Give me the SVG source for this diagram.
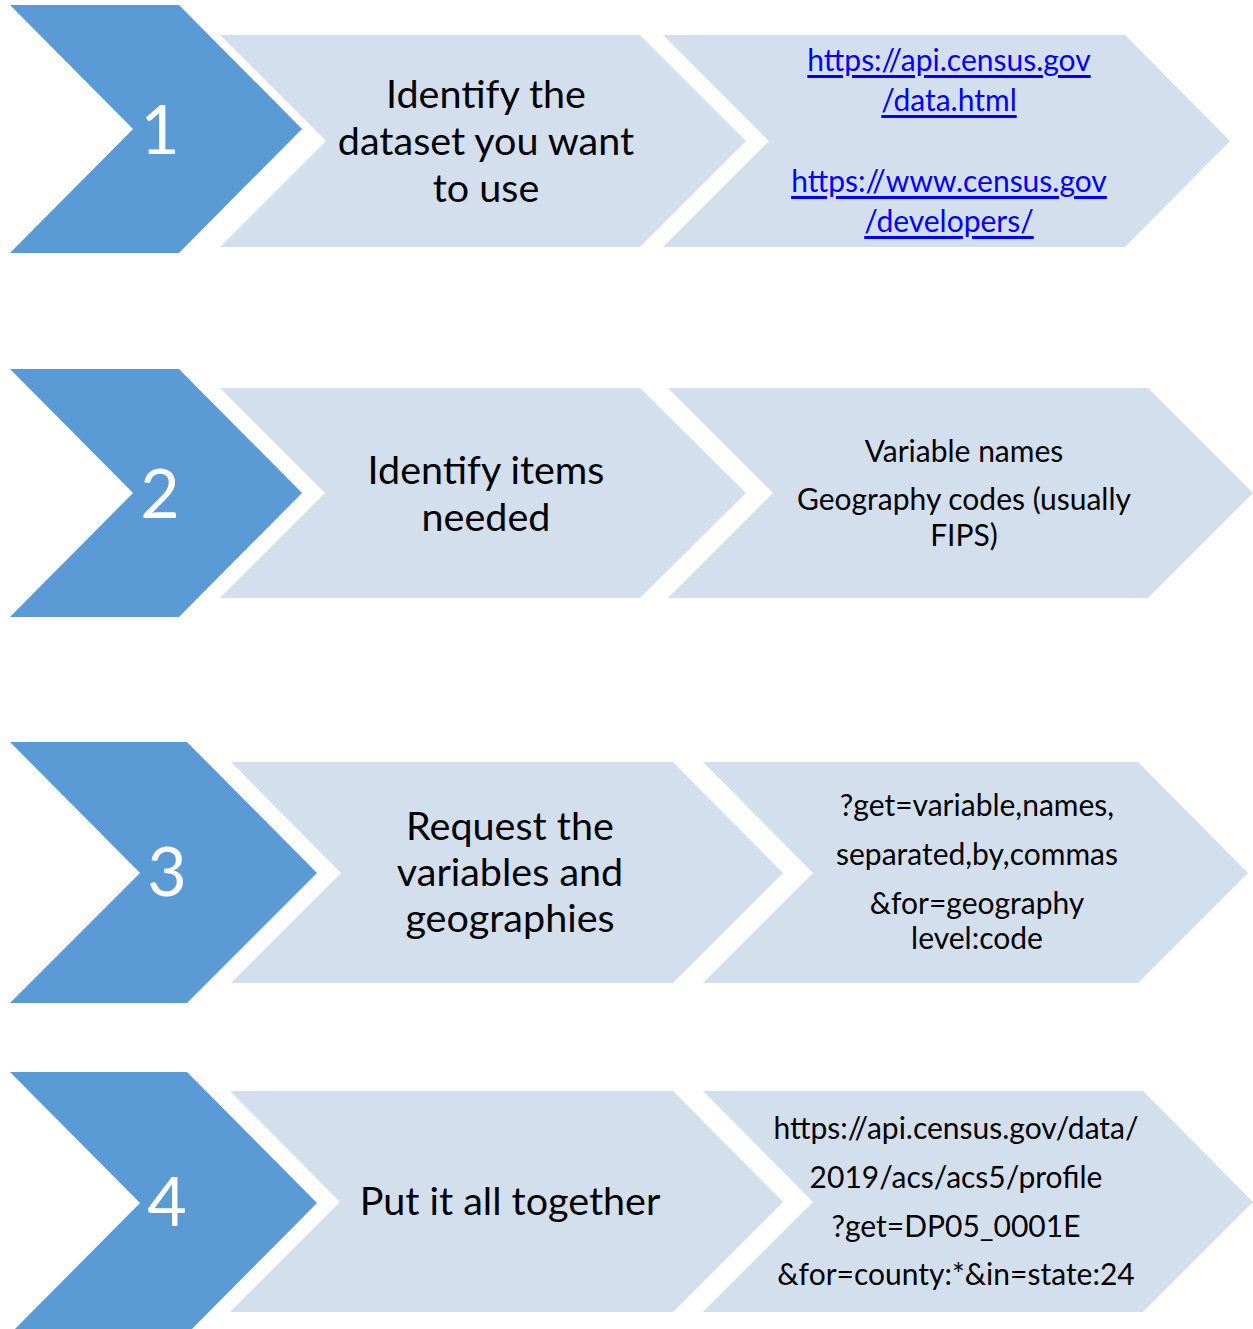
<svg xmlns="http://www.w3.org/2000/svg" width="1253" height="1329" viewBox="0 0 1253 1329">
<style>
.num{fill:#5B9BD5}
.lt{fill:#D4DFEE}
.n{font-family:Lato,"Open Sans","Liberation Sans",sans-serif;font-size:68px;font-weight:400;fill:#ffffff;text-anchor:middle;dominant-baseline:central}
.m{font-family:Lato,"Open Sans","Liberation Sans",sans-serif;font-size:39.5px;fill:#000;text-anchor:middle;dominant-baseline:central}
.r{font-family:Lato,"Open Sans","Liberation Sans",sans-serif;font-size:30px;fill:#000;text-anchor:middle;dominant-baseline:central}
.lk{fill:#0000FF;text-decoration:underline}
</style>
<rect width="1253" height="1329" fill="#ffffff"/>
<g id="connectors"/>
<!-- Row 1 -->
<g id="step1">
<polygon class="num" points="10,5 179,5 302,129 179,253 10,253 133,129"/>
<text class="n" x="160" y="127">1</text>
</g>
<g id="step1-task">
<polygon class="lt" points="220,35 640,35 746,141 640,247 220,247 326,141"/>
<text class="m" x="486" y="92">Identify the</text>
<text class="m" x="486" y="139">dataset you want</text>
<text class="m" x="486" y="186">to use</text>
</g>
<g id="step1-detail">
<polygon class="lt" points="663,35 1125,35 1230,141 1125,247 663,247 769,141"/>
<text class="r lk" x="949" y="59">https://api.census.gov</text>
<text class="r lk" x="949" y="99">/data.html</text>
<text class="r lk" x="949" y="180">https://www.census.gov</text>
<text class="r lk" x="949" y="220">/developers/</text>
</g>
<!-- Row 2 -->
<g id="step2">
<polygon class="num" points="10,369 179,369 302,493 179,617 10,617 133,493"/>
<text class="n" x="160" y="491">2</text>
</g>
<g id="step2-task">
<polygon class="lt" points="220,388 640,388 746,493 640,598 220,598 325,493"/>
<text class="m" x="486" y="468">Identify items</text>
<text class="m" x="486" y="515">needed</text>
</g>
<g id="step2-detail">
<polygon class="lt" points="668,388 1148,388 1253,493 1148,598 668,598 773,493"/>
<text class="r" x="964" y="450">Variable names</text>
<text class="r" x="964" y="498">Geography codes (usually</text>
<text class="r" x="964" y="534">FIPS)</text>
</g>
<!-- Row 3 -->
<g id="step3">
<polygon class="num" points="10,742 187,742 317,873 187,1003 10,1003 140,873"/>
<text class="n" x="167" y="869">3</text>
</g>
<g id="step3-task">
<polygon class="lt" points="231,762 673,762 783,873 673,983 231,983 341,873"/>
<text class="m" x="510" y="824">Request the</text>
<text class="m" x="510" y="870">variables and</text>
<text class="m" x="510" y="916">geographies</text>
</g>
<g id="step3-detail">
<polygon class="lt" points="703,762 1138,762 1248,873 1138,983 703,983 813,873"/>
<text class="r" x="977" y="804">?get=variable,names,</text>
<text class="r" x="977" y="853">separated,by,commas</text>
<text class="r" x="977" y="902">&amp;for=geography</text>
<text class="r" x="977" y="937">level:code</text>
</g>
<!-- Row 4 -->
<g id="step4">
<polygon class="num" points="10,1072 187,1072 317,1203 187,1334 10,1334 140,1203"/>
<text class="n" x="167" y="1199">4</text>
</g>
<g id="step4-task">
<polygon class="lt" points="230,1091 673,1091 783,1202 673,1312 230,1312 340,1202"/>
<text class="m" x="510" y="1199">Put it all together</text>
</g>
<g id="step4-detail">
<polygon class="lt" points="703,1091 1143,1091 1253,1202 1143,1312 703,1312 813,1202"/>
<text class="r" x="956" y="1127">https://api.census.gov/data/</text>
<text class="r" x="956" y="1176">2019/acs/acs5/profile</text>
<text class="r" x="956" y="1225">?get=DP05_0001E</text>
<text class="r" x="956" y="1273">&amp;for=county:*&amp;in=state:24</text>
</g>
</svg>
